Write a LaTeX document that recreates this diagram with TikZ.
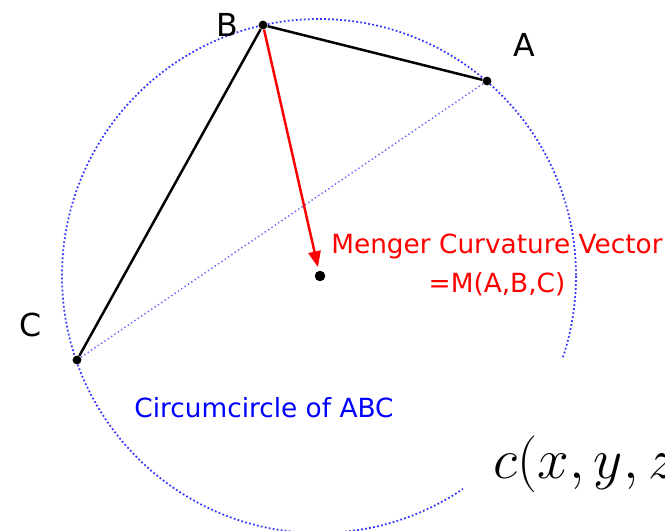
\documentclass[tikz,border=0pt]{standalone}
\usepackage{fontspec}
\setmainfont{DejaVu Sans}
\usetikzlibrary{arrows.meta}

\begin{document}
\begin{tikzpicture}[x=0.02cm, y=-0.02cm,
    pt/.style={circle, fill=black, inner sep=0pt, minimum size=5pt},
    side/.style={line width=1.4pt, black},
    lbl/.style={font=\fontsize{18}{21}\selectfont}]
	\useasboundingbox (0,0) rectangle (665,530);

	% circumcircle and its chord
	\coordinate (O) at (319,276);
	\draw[blue!80, line width=1pt, dash pattern=on 1pt off 1.3pt] (O) circle (257);

	\node[pt] (A) at (487,81) {};
	\node[pt] (B) at (263,25) {};
	\node[pt] (C) at (77,360) {};
	\node[pt, minimum size=6pt] (M) at (320,276) {};

	\draw[blue!60, line width=0.8pt, dash pattern=on 0.8pt off 1.5pt] (A) -- (C);
	\draw[side] (C) -- (B) -- (A);
	\draw[-{Triangle[length=9pt, width=7pt]}, red, line width=1.4pt, shorten >=2pt] (B) -- (M);

	\node[lbl] (lA) at (524,45) {A};
	\node[lbl] (lB) at (227,25) {B};
	\node[lbl] (lC) at (31,325) {C};

	\node[red, align=center, font=\fontsize{15}{22}\selectfont] (lM) at (497,265) {Menger Curvature Vector\\=M(A,B,C)};
	\node[blue, font=\fontsize{15}{18}\selectfont] (lO) at (264,408) {Circumcircle of ABC};

	% white patch with the formula
	\fill[white] (463,359) rectangle (700,560);
	\node[anchor=base west, inner sep=0pt, font=\Huge, scale=1.3, transform shape] (f) at (493,478) {$c(x,y,z)$};
\end{tikzpicture}
\end{document}
